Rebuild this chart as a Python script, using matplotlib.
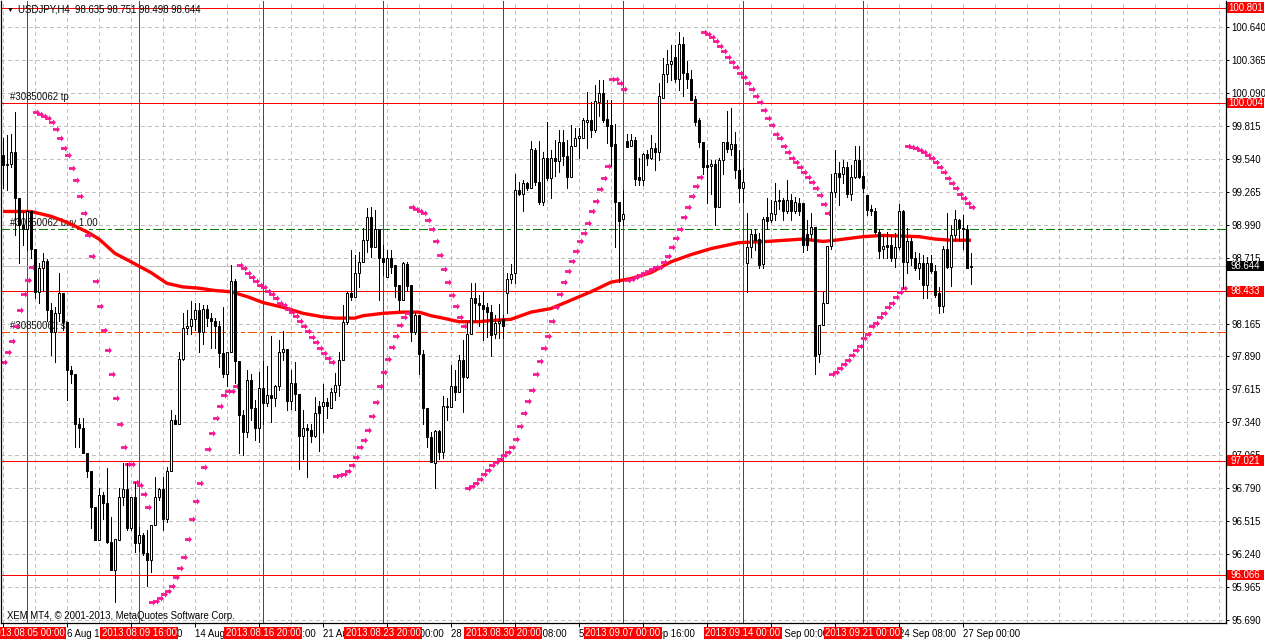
import numpy as np
import matplotlib
matplotlib.use("Agg")
import matplotlib.pyplot as plt
from matplotlib.patches import Rectangle
from matplotlib.path import Path
from matplotlib.transforms import blended_transform_factory

plt.rcParams['font.family'] = ['Liberation Sans', 'DejaVu Sans']

# ---------------- chart data (USDJPY H4) ----------------
title_text = "USDJPY,H4  98.635 98.751 98.498 98.644"
copyright_text = "XEM MT4, \u00a9 2001-2013, MetaQuotes Software Corp."

opens = [
    99.57, 99.49, 99.50, 99.60, 99.21, 98.99, 98.95, 99.10, 98.79, 98.43,
    98.63, 98.69, 98.28, 98.09, 98.25, 98.42, 98.18, 97.78, 97.74, 97.33,
    97.29, 97.08, 96.93, 96.63, 96.36, 96.73, 96.67, 96.34, 96.11, 96.36,
    96.72, 96.78, 96.46, 96.72, 96.33, 96.40, 96.25, 96.19, 96.48, 96.72,
    96.78, 96.53, 96.93, 97.36, 97.33, 97.87, 98.13, 98.14, 98.20, 98.28,
    98.09, 98.29, 98.21, 98.19, 98.14, 97.92, 97.74, 97.93, 98.52, 97.85,
    97.40, 97.26, 97.69, 97.46, 97.29, 97.63, 97.50, 97.57, 97.54, 97.64,
    97.93, 97.95, 97.52, 97.67, 97.58, 97.23, 97.29, 97.28, 97.23, 97.48,
    97.48, 97.51, 97.46, 97.59, 97.65, 97.86, 98.18, 98.42, 98.39, 98.59,
    98.68, 98.86, 99.05, 98.80, 98.95, 98.71, 98.55, 98.71, 98.65, 98.49,
    98.36, 98.66, 98.49, 98.09, 98.24, 97.91, 97.46, 97.22, 97.00, 97.27,
    97.09, 97.47, 97.47, 97.64, 97.59, 97.86, 97.72, 98.08, 98.38, 98.34,
    98.32, 98.30, 98.26, 98.08, 98.17, 98.20, 98.42, 98.54, 98.59, 99.28,
    99.25, 99.34, 99.30, 99.61, 99.35, 99.18, 99.55, 99.38, 99.55, 99.52,
    99.68, 99.56, 99.39, 99.65, 99.71, 99.71, 99.85, 99.86, 99.78, 100.01,
    100.09, 99.87, 99.82, 99.66, 99.18, 99.04, 99.69, 99.65, 99.70, 99.39,
    99.36, 99.58, 99.55, 99.63, 99.60, 100.05, 100.25, 100.33, 100.39, 100.21,
    100.50, 100.26, 100.21, 100.04, 99.86, 99.68, 99.49, 99.48, 99.50, 99.14,
    99.53, 99.68, 99.62, 99.66, 99.45, 99.30, 98.67, 98.80, 98.91, 98.87,
    98.66, 99.05, 99.03, 99.08, 99.19, 99.20, 99.10, 99.20, 99.10, 99.17,
    99.17, 98.91, 98.91, 98.97, 97.91, 98.15, 98.34, 98.81, 99.26, 99.42,
    99.41, 99.47, 99.25, 99.39, 99.53, 99.40, 99.24, 99.12, 99.10, 98.93,
    98.79, 98.82, 98.82, 98.71, 98.80, 99.10, 98.68, 98.85, 98.71, 98.63,
    98.67, 98.49, 98.67, 98.60, 98.42, 98.31, 98.79, 98.64, 98.90, 99.03,
    98.96, 98.95, 98.635,
]
highs = [
    99.71, 99.74, 99.75, 99.93, 99.21, 99.10, 99.11, 99.10, 98.79, 98.67,
    98.75, 98.70, 98.34, 98.30, 98.59, 98.42, 98.18, 97.81, 97.74, 97.38,
    97.38, 97.08, 96.93, 96.63, 96.79, 96.76, 96.96, 96.55, 96.37, 96.79,
    97.00, 97.00, 96.72, 96.84, 96.47, 96.42, 96.44, 96.48, 96.88, 96.79,
    96.88, 96.97, 97.44, 97.40, 97.93, 98.25, 98.28, 98.35, 98.34, 98.34,
    98.32, 98.32, 98.25, 98.21, 98.19, 98.30, 97.93, 98.65, 98.54, 97.85,
    97.44, 97.78, 97.74, 97.53, 97.76, 97.85, 97.81, 98.06, 97.65, 98.03,
    98.10, 97.95, 97.78, 97.84, 97.58, 97.44, 97.33, 97.33, 97.55, 97.52,
    97.66, 97.54, 97.63, 97.75, 97.93, 98.32, 98.44, 98.78, 98.74, 98.76,
    98.96, 99.13, 99.14, 99.11, 98.95, 98.82, 98.78, 98.78, 98.65, 98.49,
    98.68, 98.68, 98.49, 98.26, 98.24, 97.94, 97.46, 97.26, 97.28, 97.28,
    97.56, 97.54, 97.82, 97.78, 97.90, 98.03, 98.18, 98.50, 98.50, 98.40,
    98.44, 98.34, 98.32, 98.24, 98.33, 98.24, 98.59, 98.66, 99.41, 99.35,
    99.36, 99.35, 99.69, 99.63, 99.69, 99.60, 99.85, 99.61, 99.70, 99.78,
    99.78, 99.70, 99.82, 99.80, 99.80, 99.88, 100.10, 100.01, 100.16, 100.20,
    100.20, 100.03, 100.03, 99.83, 99.18, 99.28, 99.75, 99.75, 99.72, 99.55,
    99.59, 99.61, 99.74, 99.67, 100.17, 100.38, 100.45, 100.49, 100.49, 100.60,
    100.56, 100.36, 100.28, 100.06, 99.88, 99.68, 99.61, 99.53, 99.53, 99.55,
    99.68, 99.94, 99.96, 99.76, 99.61, 99.46, 99.09, 98.95, 98.95, 98.92,
    99.05, 99.21, 99.20, 99.34, 99.28, 99.21, 99.36, 99.25, 99.22, 99.21,
    99.17, 99.03, 99.09, 98.97, 98.15, 98.43, 98.81, 99.41, 99.61, 99.51,
    99.53, 99.51, 99.49, 99.65, 99.65, 99.43, 99.24, 99.15, 99.13, 98.95,
    98.90, 98.93, 98.90, 98.92, 99.16, 99.11, 98.96, 98.88, 98.76, 98.75,
    98.74, 98.72, 98.74, 98.65, 98.47, 98.81, 99.09, 98.99, 99.11, 99.04,
    99.07, 98.99, 98.751,
]
lows = [
    99.30, 99.28, 99.47, 98.90, 98.67, 98.82, 98.78, 98.71, 98.38, 98.34,
    98.44, 98.19, 97.90, 97.84, 98.19, 98.11, 97.53, 97.67, 97.13, 97.13,
    97.08, 96.88, 96.46, 96.36, 96.36, 96.53, 96.33, 96.11, 95.84, 96.36,
    96.65, 96.44, 96.44, 96.26, 96.27, 96.23, 95.97, 96.09, 96.48, 96.69,
    96.44, 96.51, 96.93, 97.33, 97.33, 97.86, 98.08, 98.08, 98.11, 97.93,
    97.99, 98.14, 97.96, 97.96, 97.80, 97.72, 97.64, 97.93, 97.67, 97.08,
    97.07, 97.22, 97.36, 97.19, 97.18, 97.33, 97.48, 97.34, 97.48, 97.61,
    97.86, 97.44, 97.45, 97.44, 96.95, 97.03, 96.88, 97.18, 97.22, 97.10,
    97.26, 97.38, 97.46, 97.53, 97.56, 97.86, 98.16, 98.36, 98.39, 98.47,
    98.68, 98.76, 98.72, 98.80, 98.36, 98.57, 98.55, 98.59, 98.39, 98.28,
    98.36, 98.44, 98.02, 98.08, 97.74, 97.33, 97.13, 97.01, 96.79, 97.03,
    97.04, 97.36, 97.47, 97.53, 97.59, 97.43, 97.71, 98.08, 98.19, 98.14,
    98.03, 98.05, 97.89, 98.04, 98.04, 98.04, 98.25, 98.50, 98.50, 99.24,
    99.10, 99.28, 99.30, 99.32, 99.16, 99.15, 99.36, 99.21, 99.40, 99.43,
    99.49, 99.30, 99.39, 99.65, 99.55, 99.71, 99.63, 99.72, 99.76, 99.90,
    99.85, 99.67, 99.48, 98.80, 98.51, 98.99, 99.64, 99.65, 99.32, 99.32,
    99.32, 99.49, 99.54, 99.45, 99.53, 100.05, 100.18, 100.20, 100.18, 100.11,
    100.06, 100.13, 100.03, 99.82, 99.64, 99.41, 99.17, 99.25, 98.99, 99.14,
    99.41, 99.60, 99.57, 99.38, 99.18, 99.18, 98.43, 98.72, 98.78, 98.63,
    98.63, 98.95, 99.01, 99.03, 99.12, 99.03, 99.09, 99.03, 99.09, 99.07,
    98.76, 98.78, 98.86, 97.74, 97.84, 98.15, 98.34, 98.79, 99.22, 99.15,
    99.34, 99.22, 99.20, 99.38, 99.38, 99.26, 99.07, 99.07, 98.91, 98.71,
    98.71, 98.71, 98.69, 98.64, 98.79, 98.46, 98.59, 98.65, 98.61, 98.54,
    98.38, 98.38, 98.59, 98.39, 98.25, 98.26, 98.63, 98.48, 98.86, 98.86,
    98.79, 98.63, 98.498,
]
closes = [
    99.49, 99.50, 99.60, 99.21, 98.99, 98.95, 99.10, 98.79, 98.43, 98.63,
    98.69, 98.28, 98.09, 98.25, 98.42, 98.18, 97.78, 97.74, 97.33, 97.29,
    97.08, 96.93, 96.63, 96.36, 96.73, 96.67, 96.34, 96.11, 96.37, 96.72,
    96.78, 96.46, 96.72, 96.33, 96.40, 96.25, 96.19, 96.48, 96.72, 96.78,
    96.53, 96.93, 97.36, 97.33, 97.87, 98.13, 98.14, 98.20, 98.28, 98.09,
    98.29, 98.21, 98.19, 98.14, 97.92, 97.74, 97.93, 98.52, 97.85, 97.40,
    97.26, 97.69, 97.46, 97.29, 97.63, 97.50, 97.57, 97.54, 97.64, 97.93,
    97.95, 97.52, 97.67, 97.58, 97.23, 97.29, 97.28, 97.23, 97.42, 97.42,
    97.51, 97.48, 97.59, 97.65, 97.86, 98.18, 98.42, 98.39, 98.59, 98.68,
    98.86, 99.05, 98.80, 98.95, 98.71, 98.68, 98.71, 98.64, 98.48, 98.36,
    98.67, 98.48, 98.09, 98.24, 97.91, 97.46, 97.22, 97.01, 97.27, 97.09,
    97.48, 97.48, 97.64, 97.59, 97.86, 97.72, 98.08, 98.38, 98.34, 98.32,
    98.29, 98.26, 98.07, 98.17, 98.19, 98.14, 98.54, 98.58, 99.28, 99.25,
    99.34, 99.30, 99.62, 99.35, 99.18, 99.55, 99.38, 99.55, 99.52, 99.68,
    99.56, 99.39, 99.65, 99.71, 99.73, 99.86, 99.86, 99.78, 100.02, 100.09,
    99.86, 99.81, 99.65, 99.18, 99.02, 99.08, 99.64, 99.70, 99.37, 99.36,
    99.58, 99.55, 99.63, 99.60, 100.06, 100.25, 100.33, 100.36, 100.21, 100.50,
    100.26, 100.21, 100.03, 99.85, 99.68, 99.47, 99.47, 99.50, 99.14, 99.53,
    99.68, 99.62, 99.66, 99.45, 99.30, 99.35, 98.80, 98.91, 98.86, 98.65,
    99.04, 99.02, 99.09, 99.19, 99.20, 99.10, 99.20, 99.10, 99.18, 99.10,
    98.82, 98.82, 98.97, 97.89, 98.15, 98.34, 98.81, 99.26, 99.42, 99.39,
    99.47, 99.25, 99.39, 99.53, 99.39, 99.30, 99.11, 99.10, 98.93, 98.77,
    98.81, 98.80, 98.71, 98.80, 99.10, 98.68, 98.85, 98.71, 98.63, 98.67,
    98.49, 98.67, 98.60, 98.40, 98.31, 98.79, 98.64, 98.90, 99.04, 98.96,
    98.95, 98.63, 98.644,
]

# Parabolic SAR, one value per bar
sar = [
    97.84, 97.93, 98.02, 98.14, 98.28, 98.41, 98.53, 98.64,
    99.93, 99.91, 99.90, 99.88, 99.85, 99.79, 99.71, 99.63, 99.57, 99.46,
    99.36, 99.23, 99.09, 98.90, 98.73, 98.52, 98.31, 98.11, 97.94, 97.74,
    97.54, 97.33, 97.13, 96.99, 96.99, 96.84, 96.82, 96.74, 96.63,
    95.84, 95.85, 95.87, 95.91, 95.93, 95.97, 96.05, 96.12, 96.22, 96.37,
    96.53, 96.68, 96.83, 96.97, 97.12, 97.25, 97.38, 97.48, 97.57, 97.60,
    97.60, 97.64,
    98.65, 98.63, 98.59, 98.55, 98.52, 98.49, 98.47, 98.44, 98.41, 98.38,
    98.34, 98.32, 98.29, 98.26, 98.23, 98.19, 98.14, 98.10, 98.05, 98.01,
    97.96, 97.92, 97.88, 97.84,
    96.89, 96.90, 96.91, 96.93, 96.98, 97.05, 97.13, 97.19, 97.28, 97.39,
    97.51, 97.64, 97.76, 97.87, 97.97, 98.06, 98.15, 98.22, 98.25,
    99.14, 99.12, 99.10, 99.09, 99.03, 98.95, 98.85, 98.74, 98.62, 98.51,
    98.40, 98.31, 98.22, 98.14,
    96.79, 96.81, 96.83, 96.87, 96.91, 96.94, 96.98, 97.01, 97.03, 97.07,
    97.09, 97.13, 97.20, 97.31, 97.42, 97.52, 97.61, 97.74, 97.85, 97.96,
    98.06, 98.19, 98.30, 98.41, 98.51, 98.60, 98.69, 98.77, 98.85, 98.92,
    99.00, 99.10, 99.19, 99.29, 99.38, 99.48,
    100.21, 100.21, 100.17, 100.12,
    98.53, 98.54, 98.55, 98.57, 98.59, 98.60, 98.62, 98.64, 98.64, 98.68,
    98.73, 98.80, 98.88, 98.95, 99.05, 99.14, 99.23, 99.31, 99.39,
    100.60, 100.58, 100.56, 100.52, 100.48, 100.44, 100.39, 100.35, 100.31, 100.26,
    100.22, 100.17, 100.12, 100.06, 100.01, 99.95, 99.88, 99.82, 99.75, 99.71,
    99.65, 99.60, 99.55, 99.51, 99.47, 99.43, 99.39, 99.35, 99.30, 99.24,
    99.16, 99.09,
    97.74, 97.76, 97.79, 97.83, 97.86, 97.90, 97.94, 97.98, 98.04, 98.08,
    98.14, 98.17, 98.22, 98.25, 98.30, 98.34, 98.39, 98.43, 98.46,
    99.65, 99.64, 99.63, 99.61, 99.60, 99.57, 99.55, 99.51, 99.47, 99.43,
    99.38, 99.34, 99.30, 99.25, 99.21, 99.17, 99.14,
]

# moving average, read at these bars
ma_bars = [0, 7, 12, 16, 21, 24, 28, 32, 37, 41, 45, 49, 53, 57, 61, 65, 70, 75, 80, 83,
           88, 90, 95, 100, 104, 107, 110, 114, 119, 122, 127, 132, 137, 142, 147, 152,
           157, 162, 167, 172, 177, 184, 191, 200, 205, 208, 215, 220, 229, 233, 237, 242]
ma_vals = [99.10, 99.10, 99.06, 99.01, 98.93, 98.87, 98.75, 98.68, 98.59, 98.50,
           98.47, 98.46, 98.44, 98.43, 98.39, 98.34, 98.30, 98.25, 98.22, 98.21,
           98.21, 98.23, 98.25, 98.26, 98.26, 98.23, 98.21, 98.18, 98.18, 98.19,
           98.20, 98.26, 98.29, 98.36, 98.43, 98.51, 98.54, 98.59, 98.68, 98.74,
           98.79, 98.84, 98.85, 98.87, 98.85, 98.86, 98.89, 98.90, 98.89, 98.87,
           98.86, 98.86]

# horizontal objects
red_levels = [100.801, 100.004, 98.433, 97.021, 96.066]
bid_price = 98.644
order_buy = 98.951
order_sl = 98.091
order_tp = 100.004
order_id = "#30850062"

# vertical line objects (bar index, label)
vline_bars = [6, 34, 65, 95, 125, 155, 185, 215]
vline_labels = ["2013.08.05 00:00", "2013.08.09 16:00", "2013.08.16 20:00", "2013.08.23 20:00",
                "2013.08.30 20:00", "2013.09.07 00:00", "2013.09.14 00:00", "2013.09.21 00:00"]

# axis labels
price_ticks = [95.690, 95.965, 96.240, 96.515, 96.790, 97.065, 97.340, 97.615, 97.890, 98.165,
               98.440, 98.715, 98.990, 99.265, 99.540, 99.815, 100.090, 100.365, 100.640]
time_tick_bars = [0, 16, 32, 48, 64, 80, 96, 112, 128, 144, 160, 176, 192, 208, 224, 240]
time_tick_labels = ["2 Aug 2013", "6 Aug 16:00", "9 Aug 08:00", "14 Aug 00:00", "16 Aug 16:00",
                    "21 Aug 08:00", "26 Aug 00:00", "28 Aug 16:00", "2 Sep 08:00", "5 Sep 00:00",
                    "9 Sep 16:00", "12 Sep 08:00", "17 Sep 00:00", "19 Sep 16:00", "24 Sep 08:00",
                    "27 Sep 00:00"]

# ---------------- layout ----------------
W, H = 1265, 642
L, R, T, B = 1, 1226, 1, 623          # chart frame in pixels
FIRST_PX, BAR_PX = 3, 4               # pixel of bar 0, pixels per bar
Y_TOP, Y_BOT = 100.857, 95.665
FS = 6.9
RED = '#FF0000'
PINK = '#FF1493'
GRID = '#C0C0C0'
PX = 0.72                             # one pixel in points


def main():
    n = len(closes)
    assert len(opens) == len(highs) == len(lows) == n == len(sar)
    bars = np.arange(n)
    o, h, l, c = (np.array(a) for a in (opens, highs, lows, closes))

    fig = plt.figure(figsize=(W / 100, H / 100), dpi=100)
    ax = fig.add_axes([L / W, 1 - B / H, (R - L) / W, (B - T) / H])
    ax.set_xlim((L - FIRST_PX) / BAR_PX, (R - FIRST_PX) / BAR_PX)
    ax.set_ylim(Y_BOT, Y_TOP)
    ppu = (B - T) / (Y_TOP - Y_BOT)       # pixels per price unit

    # grid
    for p in price_ticks:
        ax.axhline(p, color=GRID, lw=PX, ls=(0, (4, 3)), zorder=0.5, antialiased=False)
    for b in np.arange(0, (R - FIRST_PX) / BAR_PX, 8):
        ax.axvline(b, color=GRID, lw=PX, ls=(0, (4, 3)), zorder=0.5, antialiased=False)

    # objects
    for lv in red_levels:
        ax.axhline(lv, color=RED, lw=PX, zorder=1, antialiased=False)
    for b in vline_bars:
        ax.axvline(b, color=RED, lw=PX, zorder=1, antialiased=False)
    ax.axhline(bid_price, color='#C0C0C0', lw=PX, zorder=1, antialiased=False)
    ax.axhline(order_buy, color='#008000', lw=PX, ls=(0, (9, 3, 3, 3)), zorder=1, antialiased=False)
    ax.axhline(order_sl, color='#FF4500', lw=PX, ls=(0, (9, 3, 3, 3)), zorder=1, antialiased=False)
    xt = (10 - FIRST_PX) / BAR_PX
    for lv, txt in ((order_tp, order_id + " tp"), (order_buy, order_id + " buy 1.00"),
                    (order_sl, order_id + " sl")):
        ax.text(xt, lv + 1.2 / ppu, txt, fontsize=FS, color='#101010', ha='left', va='bottom', zorder=1.5)

    # indicators
    ax.plot(ma_bars, ma_vals, color=RED, lw=2.4, solid_capstyle='butt', zorder=2)
    arrow = Path([(-1, -0.4), (0.15, -0.4), (0.15, -0.9), (1, 0), (0.15, 0.9),
                  (0.15, 0.4), (-1, 0.4), (-1, -0.4)],
                 [Path.MOVETO] + [Path.LINETO] * 6 + [Path.CLOSEPOLY])
    ax.plot(bars + 0.25, sar, ls='none', marker=arrow, markersize=5.0, color=PINK,
            markeredgewidth=0, zorder=2.2)

    # candles
    ax.vlines(bars, l, h, color='black', lw=PX, zorder=3, antialiased=False)
    up = c >= o
    body_lo = np.minimum(o, c)
    body_h = np.abs(c - o)
    ax.bar(bars[up], body_h[up], bottom=body_lo[up], width=0.55, color='white',
           edgecolor='black', linewidth=PX, zorder=3.2)
    ax.bar(bars[~up], body_h[~up], bottom=body_lo[~up], width=0.55, color='black',
           edgecolor='black', linewidth=PX, zorder=3.2)

    # axes frame & ticks
    ax.spines['top'].set_visible(False)
    for s in ('left', 'right', 'bottom'):
        ax.spines[s].set_color('black')
        ax.spines[s].set_linewidth(0.9)
    ax.yaxis.tick_right()
    ax.set_yticks(price_ticks)
    ax.set_yticklabels([f"{p:.3f}" for p in price_ticks])
    ax.tick_params(axis='y', length=2.5, width=PX, pad=1.5, labelsize=FS, colors='black')
    ax.set_xticks(time_tick_bars)
    ax.set_xticklabels(time_tick_labels, ha='left')
    ax.tick_params(axis='x', length=3, width=PX, pad=1, labelsize=FS, colors='black')

    # right side price labels
    tr_r = blended_transform_factory(ax.transAxes, ax.transData)
    x0 = (1227 - L) / (R - L)
    bw = 37 / (R - L)
    bh = 10.5 / ppu
    for lv, fc in [(v, RED) for v in red_levels] + [(bid_price, 'black')]:
        ax.add_patch(Rectangle((x0, lv - bh / 2), bw, bh, transform=tr_r, facecolor=fc,
                               edgecolor='none', clip_on=False, zorder=6))
        ax.text(x0 + bw / 2, lv, f"{lv:.3f}", transform=tr_r, color='white', fontsize=FS,
                ha='center', va='center', clip_on=False, zorder=7)

    # bottom time labels of the vertical lines
    tr_b = blended_transform_factory(ax.transData, ax.transAxes)
    lw_bars = 78 / BAR_PX
    yb0 = (B - 639) / (B - T)
    yb1 = (B - 627) / (B - T)
    for b, txt in zip(vline_bars, vline_labels):
        ax.add_patch(Rectangle((b - lw_bars / 2, yb0), lw_bars, yb1 - yb0, transform=tr_b,
                               facecolor=RED, edgecolor='none', clip_on=False, zorder=6))
        ax.text(b, (yb0 + yb1) / 2, txt, transform=tr_b, color='white', fontsize=FS,
                ha='center', va='center', clip_on=False, zorder=7)

    # title and copyright
    fig.text(7 / W, 1 - 10 / H, "\u25bc", fontsize=5, ha='left', va='center', color='black')
    fig.text(18 / W, 1 - 10 / H, title_text, fontsize=FS, ha='left', va='center', color='black')
    fig.text(7 / W, 1 - 616 / H, copyright_text, fontsize=FS, ha='left', va='center', color='black')

    fig.savefig("out.png", dpi=100, facecolor='white')


if __name__ == "__main__":
    main()
